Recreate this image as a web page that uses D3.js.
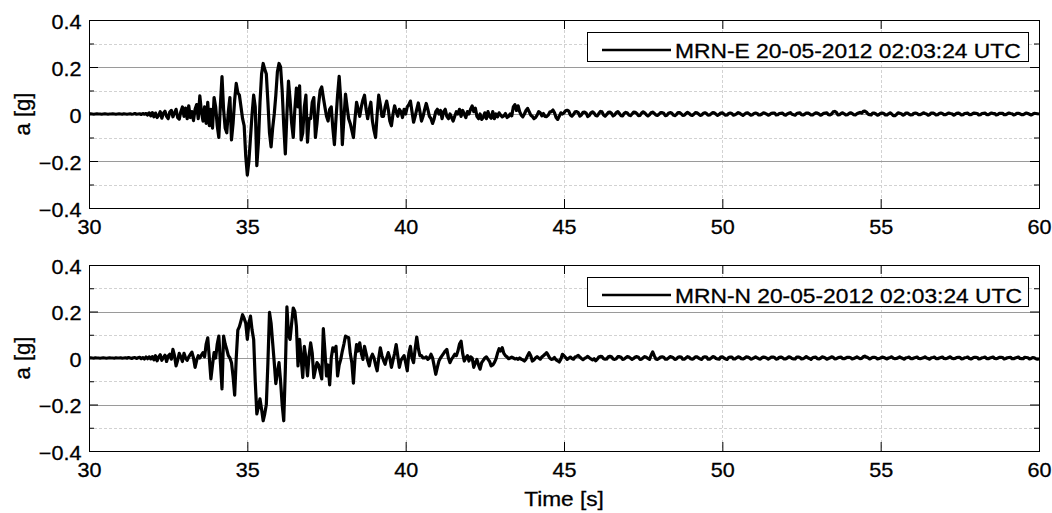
<!DOCTYPE html>
<html>
<head>
<meta charset="utf-8">
<script src="https://cdn.jsdelivr.net/npm/d3@7"></script>
<style>
  body { margin: 0; background: white; }
  svg { display: block; font-family: "Liberation Sans", Arial, sans-serif; }
  svg text { stroke: black; stroke-width: 0.3px; }
</style>
</head>
<body>
<svg id="graph" width="1052" height="513"></svg>
<script>
"use strict";

// sampling of the records: first sample time and step [s]
var T0 = 30;
var DT = 0.05;

// MRN-E acceleration [g], one row per second (30 .. 59), last value at 60 s
var accE = [
  0,.001,0,-.001,0,.001,0,0,-.001,0,.001,0,-.001,0,0,.001,0,-.001,0,.001,
  0,-.001,.001,0,-.001,0,.001,-.001,0,.002,-.001,0,.001,-.002,.002,-.001,.002,-.004,.005,-.008,
  .006,-.012,.004,-.015,-.006,.01,-.018,.003,.012,-.01,-.02,.008,.015,-.012,.005,.02,-.015,-.022,.01,.03,
  -.01,.025,-.02,.035,-.015,.01,-.028,.02,.04,-.02,.077,.01,-.03,.03,-.04,.05,-.05,.02,-.06,.07,
  .03,-.05,-.1,.04,.159,.02,-.06,-.08,.01,.07,-.11,-.04,.06,.13,.09,.08,.03,-.02,-.05,-.18,
  -.26,-.2,-.1,0,.08,.03,-.22,-.12,.05,.17,.215,.19,.17,.05,-.08,-.14,-.06,0,.08,.18,
  .215,.2,.1,-.05,-.17,0,.14,.06,-.04,-.1,.02,.11,.03,.12,-.11,-.08,.03,.08,-.12,-.02,
  -.02,.05,.07,-.1,-.04,.04,.1,.115,.07,.03,-.01,-.03,.02,.03,-.06,-.13,-.02,.08,.16,.06,
  -.13,-.02,.085,.03,-.02,-.04,-.07,-.1,-.02,.05,.02,-.01,.03,.06,.08,.02,-.02,.02,.05,-.03,
  -.07,-.1,0,.08,.04,-.01,-.01,.03,.055,.02,-.03,-.05,0,.035,.01,-.01,.02,.01,-.015,.02,
  0,.03,.04,.055,.01,-.035,-.01,.02,.047,.01,-.03,-.01,.02,.045,.02,-.01,-.02,-.04,-.02,.01,
  .02,0,.015,-.02,.01,.02,-.01,-.02,0,-.015,-.03,-.01,.01,0,.02,-.01,.015,0,-.015,.01,
  0,.02,.034,.01,.025,-.01,-.02,0,-.023,-.015,.005,-.02,.01,-.01,-.018,.01,-.02,0,-.012,.005,
  -.005,-.012,-.008,.002,-.015,-.01,0,-.008,.03,.04,.015,.035,.01,-.005,-.012,0,.015,.024,.01,-.005,
  -.01,-.02,-.015,-.005,.01,.005,-.008,.002,-.01,-.011,-.005,.008,.01,.017,.005,-.015,-.023,-.01,.005,0,
  .005,.014,.016,.012,-.004,-.009,-.002,.009,.01,.006,-.009,-.004,.007,.008,.004,-.011,-.006,.005,.009,.004,
  -.006,-.008,.002,.011,.009,-.004,-.009,-.002,.007,.008,.003,-.008,-.004,.006,.01,.002,-.007,-.008,.003,.007,
  .004,-.004,-.007,0,.008,.007,.002,-.007,-.006,.004,.009,.005,-.003,-.008,-.003,.005,.008,.003,-.004,-.006,
  -.001,.006,.006,.003,-.007,-.005,.003,.006,.004,-.004,-.007,-.002,.006,.006,.001,-.006,-.005,.002,.007,.003,
  -.004,-.006,-.001,.006,.005,0,-.006,-.004,.003,.005,.002,-.005,-.004,.001,.006,.005,-.001,-.006,-.002,.004,
  .005,0,-.005,-.004,.002,.004,.002,-.005,-.003,.001,.006,.003,-.002,-.006,-.001,.004,.005,0,-.005,-.003,
  .002,.004,.002,-.004,-.004,0,.005,.003,-.001,-.005,-.002,.003,.004,.004,-.004,-.003,.002,.003,.004,-.003,
  -.005,0,.003,.006,-.001,-.003,-.005,.002,.004,.005,-.003,-.004,-.001,.004,.004,.001,-.004,-.004,.001,.005,
  .004,0,-.005,-.002,.003,.004,.005,-.003,-.004,0,.009,.011,.007,-.004,-.003,.002,.005,.001,-.004,-.003,
  .002,.005,.002,-.003,-.004,.001,.004,.007,.004,.011,.012,.008,0,-.003,-.004,.004,.004,0,-.005,-.002,
  .003,.004,.002,-.004,-.004,.001,.005,0,-.007,-.007,-.002,.005,.003,.001,-.005,-.002,.004,.004,-.001,-.004,
  -.003,.003,.004,.002,-.003,-.003,.001,.005,.002,0,-.005,-.002,.004,.004,.001,-.004,-.003,.002,.004,.002,
  -.003,-.003,.001,.004,.002,.001,-.005,-.002,.003,.004,.001,-.004,-.003,.002,.003,.004,-.003,-.003,.001,.004,
  .003,.002,-.004,-.003,.002,.003,.004,-.003,-.003,.001,.004,.002,.002,-.004,-.002,.003,.003,.003,-.003,-.003,
  .001,.004,.002,.001,-.004,-.002,.003,.003,.001,-.003,-.003,.001,.004,.002,-.001,-.004,-.001,.003,.002,.001,
  0
];

// MRN-N acceleration [g], same sampling
var accN = [
  0,.001,0,-.001,.001,0,0,-.001,0,.001,0,-.001,0,.001,0,0,-.001,.001,0,0,
  .001,-.001,0,.001,-.001,.002,0,-.002,.001,.002,-.002,.001,.003,-.003,.002,-.004,.004,-.003,.005,-.004,
  .006,-.008,.01,-.012,.004,.014,-.01,.002,.012,-.015,.008,.016,-.005,.037,.01,-.034,-.01,.02,.005,-.015,
  .02,0,-.01,.005,.015,.025,0,-.04,-.01,.01,0,.012,.023,.005,.06,.087,0,-.09,-.03,.023,
  0,.06,.094,-.02,-.133,.094,.06,.037,.01,0,-.02,-.08,-.16,0,.12,.135,.16,.186,.17,.15,
  .08,.15,.18,.12,.08,-.1,-.24,-.21,-.176,-.22,-.27,-.24,-.2,-.02,.196,.15,.065,-.02,-.11,-.06,
  -.02,-.1,-.2,-.27,-.05,.22,.1,.08,.15,.215,.2,.136,-.034,.08,0,-.084,.05,0,-.077,.01,
  .065,.02,-.084,-.05,-.02,-.03,-.06,-.09,.126,.03,-.077,-.03,-.116,0,.044,.03,.05,-.077,-.03,-.006,
  .03,.06,.094,.09,.087,.02,-.02,-.108,0,.058,.03,.065,.02,-.006,.05,.02,-.01,-.034,0,.016,
  0,-.03,-.055,0,.044,.01,-.01,-.027,0,.023,0,-.04,-.01,.02,.058,.01,-.04,-.01,0,.01,
  -.02,-.055,.02,.05,0,-.02,.04,.09,.04,.01,.01,0,0,.005,-.006,0,.016,0,-.034,-.07,
  -.04,-.013,0,.01,.02,.03,.037,0,-.02,-.005,.005,.016,.01,.03,.06,.072,.02,-.013,0,.01,
  -.013,.005,0,-.04,-.02,-.006,-.03,-.048,-.02,-.01,0,.005,-.006,-.015,-.034,-.03,-.02,-.005,.02,.04,
  .03,.044,.02,.01,.005,-.003,0,.004,0,-.004,-.002,-.006,0,-.005,-.008,-.013,-.005,.01,.023,.01,
  -.013,-.008,0,.006,0,-.005,.004,.01,.016,.023,.012,0,-.006,-.004,.002,-.008,-.012,-.017,-.005,.016,
  .01,.002,-.006,-.001,.004,-.002,-.005,.004,.007,.011,.004,-.002,-.007,-.002,.002,.007,.001,-.004,-.008,-.003,
  -.012,-.005,.004,.007,.006,-.003,-.005,-.004,.005,.007,.005,-.004,-.006,-.003,.006,.006,.003,-.006,-.004,.001,
  .006,.004,-.001,-.006,-.002,.004,.006,.003,-.006,-.005,.001,.006,.003,-.002,-.006,.012,.026,.01,-.004,-.006,
  -.002,.004,.005,.003,-.005,-.005,0,.006,.004,.001,-.006,-.004,.003,.005,.004,-.005,-.005,0,.006,.003,
  -.003,-.005,-.002,.005,.005,0,-.004,-.006,.003,.005,.004,-.005,-.005,0,.006,.004,-.002,-.004,-.005,.004,
  .005,0,-.004,-.006,.002,.004,.004,-.004,-.004,.001,.005,.003,-.003,-.004,-.001,.005,.004,.001,-.005,-.003,
  .001,.005,.001,-.003,-.005,.001,.004,.003,-.001,-.005,-.001,.004,.004,.002,-.005,-.003,.003,.004,.001,-.004,
  -.004,0,.005,.003,-.002,-.004,-.004,.004,.004,.002,-.004,-.003,.001,.006,.001,-.002,-.006,.001,.003,.004,
  -.003,-.004,-.001,.005,.003,0,-.005,-.002,.001,.005,.003,-.004,-.003,.001,.003,.004,-.003,-.003,0,.003,
  .003,.001,-.004,-.002,.001,.005,.001,-.003,-.002,.005,.008,.004,.001,-.004,-.001,.003,.003,.001,-.004,-.002,
  0,.004,.002,-.001,-.004,0,.002,.005,-.001,-.003,-.002,.001,.005,.001,-.002,-.005,.001,.002,.004,-.003,
  -.003,0,.002,.004,-.002,-.003,-.001,.001,.005,0,-.002,-.005,.001,.002,.004,-.003,-.003,0,.002,.004,
  -.002,-.003,-.001,.002,.005,-.001,-.003,-.002,.002,.003,.003,-.004,-.003,.001,.002,.004,-.002,-.004,-.001,.003,
  .003,.002,-.004,-.003,.001,.002,.004,-.003,-.003,0,.002,.004,-.002,-.003,-.001,.003,.003,.002,-.004,-.002,
  .001,.002,.003,-.003,-.003,0,.002,.004,-.002,-.003,-.003,.003,.002,.001,-.004,-.002,.002,.001,-.003,-.005,
  -.004
];

var xTicks = [30, 35, 40, 45, 50, 55, 60];
var yTicks = [-0.4, -0.2, 0, 0.2, 0.4];
var yMinorTicks = [-0.3, -0.1, 0.1, 0.3];
var labelE = "MRN-E 20-05-2012 02:03:24 UTC";
var labelN = "MRN-N 20-05-2012 02:03:24 UTC";

var svg = d3.select('#graph');
svg.append("rect").attr("width", 1052).attr("height", 513).attr("fill", "white");

var x = d3.scaleLinear().domain([30, 60]).range([89, 1039]);

// text in the picture is a bit wider than the font
var stretch = "scale(1.08,1)";

var set_grid = function(g, y) {
  /*
    grille: pointilles clairs + lignes pleines a +-0.2 et 0
  */
  g.append("g").selectAll("line")
    .data(xTicks.slice(1, -1))
    .enter().append("line")
    .attr("x1", d => Math.round(x(d)) + 0.5).attr("x2", d => Math.round(x(d)) + 0.5)
    .attr("y1", y.range()[1]).attr("y2", y.range()[0])
    .attr("stroke", "#d2d2d2").attr("stroke-dasharray", "3,2");

  g.append("g").selectAll("line")
    .data(yMinorTicks)
    .enter().append("line")
    .attr("x1", x.range()[0]).attr("x2", x.range()[1])
    .attr("y1", d => Math.round(y(d)) + 0.5).attr("y2", d => Math.round(y(d)) + 0.5)
    .attr("stroke", "#d2d2d2").attr("stroke-dasharray", "3,2");

  g.append("g").selectAll("line")
    .data([-0.2, 0, 0.2])
    .enter().append("line")
    .attr("x1", x.range()[0]).attr("x2", x.range()[1])
    .attr("y1", d => Math.round(y(d)) + 0.5).attr("y2", d => Math.round(y(d)) + 0.5)
    .attr("stroke", "#9a9a9a");
}

var set_axes = function(g, y, top, bottom) {
  /*
    axes, ticks vers l'interieur sur les quatre cotes
  */
  var xb = g.append("g")
    .attr("transform", `translate(0,${bottom})`)
    .call(d3.axisBottom(x).tickValues(xTicks).tickSizeInner(-9).tickSizeOuter(0).tickPadding(12));
  xb.selectAll("text").attr("transform", stretch);

  g.append("g")
    .attr("transform", `translate(0,${top})`)
    .call(d3.axisTop(x).tickValues(xTicks).tickSizeInner(-9).tickSizeOuter(0).tickFormat(""));

  var yl = g.append("g")
    .attr("transform", `translate(${x.range()[0]},0)`)
    .call(d3.axisLeft(y).tickValues(yTicks).tickSizeInner(-9).tickSizeOuter(0).tickPadding(7)
      .tickFormat(d3.format("")));
  yl.selectAll("text").attr("transform", stretch).attr("y", 2);

  g.append("g")
    .attr("transform", `translate(${x.range()[1]},0)`)
    .call(d3.axisRight(y).tickValues(yTicks).tickSizeInner(-9).tickSizeOuter(0).tickFormat(""));

  g.append("g")
    .attr("transform", `translate(${x.range()[0]},0)`)
    .call(d3.axisLeft(y).tickValues(yMinorTicks).tickSizeInner(-5).tickSizeOuter(0).tickFormat(""));
  g.append("g")
    .attr("transform", `translate(${x.range()[1]},0)`)
    .call(d3.axisRight(y).tickValues(yMinorTicks).tickSizeInner(-5).tickSizeOuter(0).tickFormat(""));

  g.selectAll(".domain").remove();
  g.selectAll(".tick text").attr("font-size", "20px").attr("fill", "black").attr("font-family", null);
  g.selectAll(".tick line").attr("stroke", "black");

  g.append("rect")
    .attr("x", x.range()[0] + 0.5).attr("y", top + 0.5)
    .attr("width", x.range()[1] - x.range()[0]).attr("height", bottom - top)
    .attr("fill", "none").attr("stroke", "black");

  // label y
  g.append("text")
    .attr("transform", `translate(30,${(top + bottom) / 2}) rotate(-90)`)
    .attr("text-anchor", "middle")
    .style("font-size", "22px")
    .text("a [g]");
}

var set_signal = function(g, y, values, top, bottom, id) {
  g.append("clipPath").attr("id", id)
    .append("rect")
    .attr("x", x.range()[0]).attr("y", top)
    .attr("width", x.range()[1] - x.range()[0]).attr("height", bottom - top);

  var line = d3.line()
    .x((d, i) => x(T0 + i * DT))
    .y(d => y(d));

  g.append("path")
    .datum(values)
    .attr("clip-path", `url(#${id})`)
    .attr("fill", "none")
    .attr("stroke", "black")
    .attr("stroke-width", 3.2)
    .attr("stroke-linejoin", "round")
    .attr("d", line);
}

var set_legend = function(g, top, label) {
  g.append("rect")
    .attr("x", 587.5).attr("y", top + 12.5)
    .attr("width", 441).attr("height", 29)
    .attr("fill", "white").attr("stroke", "black");
  g.append("line")
    .attr("x1", 602).attr("x2", 671)
    .attr("y1", top + 30).attr("y2", top + 30)
    .attr("stroke", "black").attr("stroke-width", 2.6);
  g.append("g")
    .attr("transform", `translate(675,${top + 37.5}) scale(1.085,1)`)
    .append("text")
    .style("font-size", "21px")
    .text(label);
}

var init_panel = function(values, label, top, bottom, id) {
  var g = svg.append("g");
  var y = d3.scaleLinear().domain([-0.4, 0.4]).range([bottom, top]);
  set_grid(g, y);
  set_signal(g, y, values, top, bottom, id);
  set_axes(g, y, top, bottom);
  set_legend(g, top, label);
}

init_panel(accE, labelE, 20, 208, "clipE");
init_panel(accN, labelN, 265, 451, "clipN");

svg.append("g")
  .attr("transform", `translate(564,506) ${stretch}`)
  .append("text")
  .attr("text-anchor", "middle")
  .style("font-size", "21px")
  .text("Time [s]");
</script>
</body>
</html>
